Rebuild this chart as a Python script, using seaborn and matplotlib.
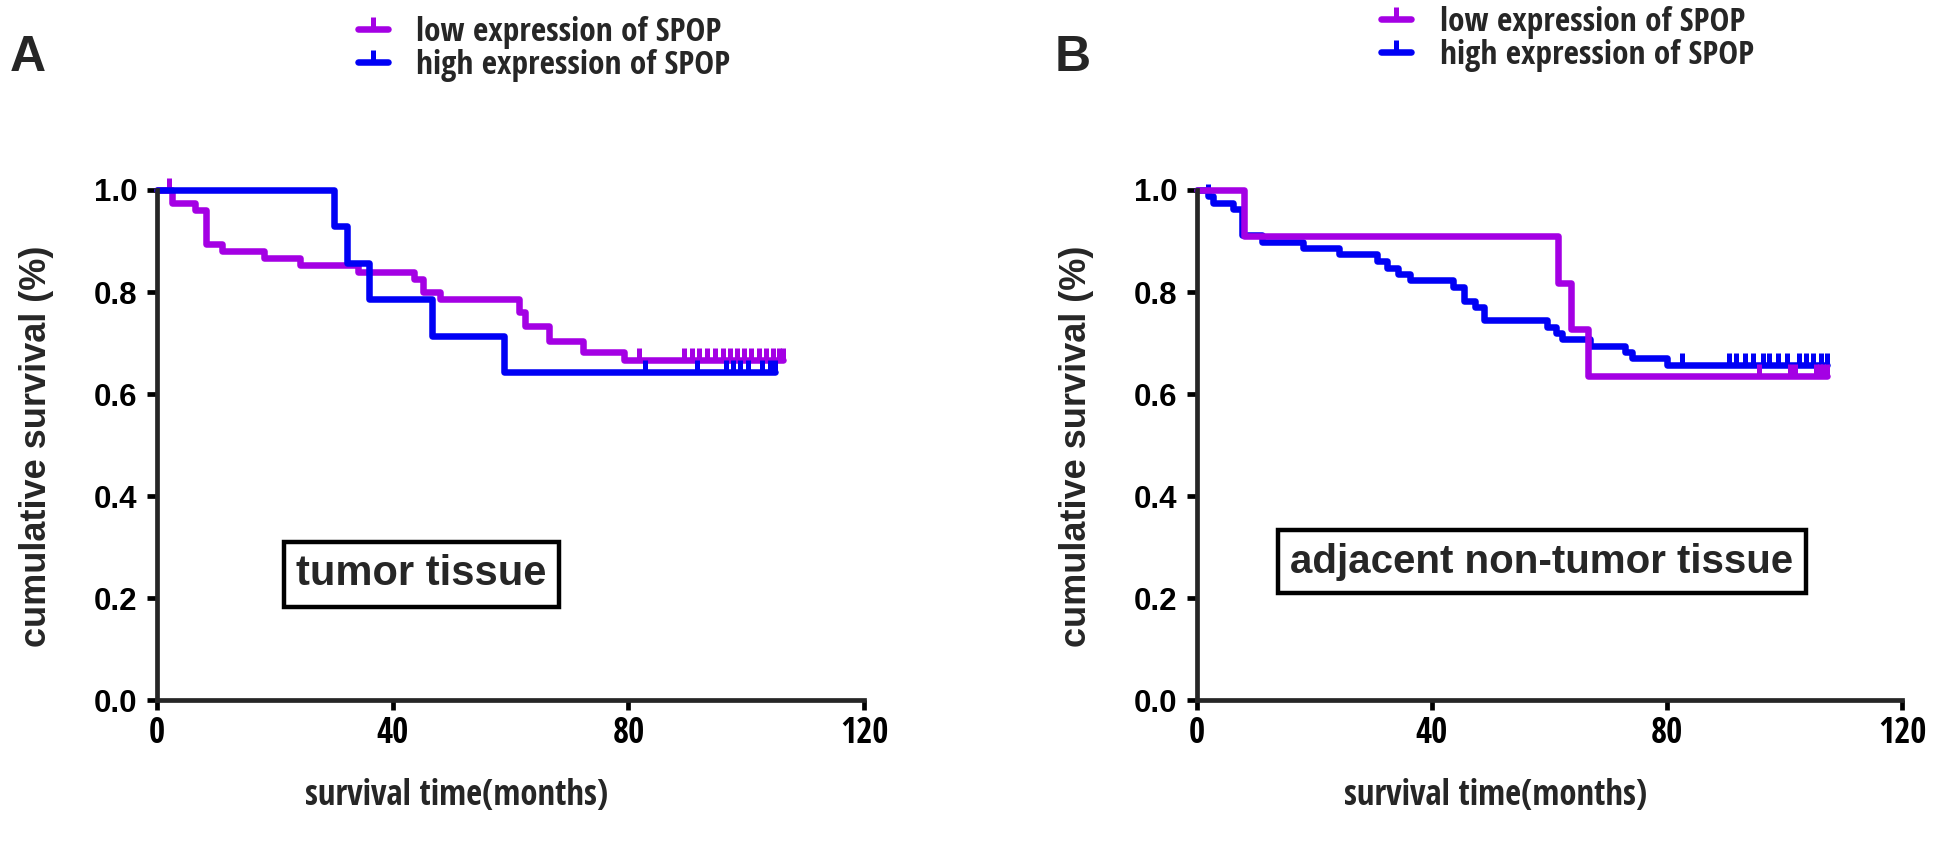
import numpy as np
import matplotlib
matplotlib.use("Agg")
import matplotlib.pyplot as plt
import seaborn as sns
from matplotlib import font_manager
from matplotlib.font_manager import FontProperties
from matplotlib.lines import Line2D

# --- data (Kaplan-Meier steps) ---
# panel A: tumor tissue
A_LOW_T = [0, 2.5, 6.4, 8.3, 11.1, 18.2, 24.2, 34.1, 43.6, 45.2, 48.1, 61.4, 62.5, 66.5, 72.3, 79.2]
A_LOW_S = [1.0, 0.975, 0.96, 0.894, 0.88, 0.866, 0.853, 0.84, 0.826, 0.80, 0.786, 0.761, 0.734, 0.705, 0.682, 0.667]
A_LOW_CENS = [2.0, 81.7, 89.5, 90.8, 92.0, 93.3, 94.6, 96.0, 97.2, 98.4, 99.6, 100.8, 102.2, 103.4, 104.6, 105.6, 106.2]

A_HIGH_T = [0, 30.0, 32.2, 36.0, 46.7, 58.9]
A_HIGH_S = [1.0, 0.929, 0.857, 0.786, 0.714, 0.643]
A_HIGH_CENS = [82.8, 91.7, 96.6, 97.8, 99.0, 100.2, 102.7, 104.0, 104.9]

# panel B: adjacent non-tumor tissue
B_LOW_T = [0, 8.1, 61.5, 63.6, 66.5]
B_LOW_S = [1.0, 0.909, 0.818, 0.727, 0.636]
B_LOW_CENS = [95.6, 100.9, 101.7, 105.4, 106.0, 106.6, 107.2]

B_HIGH_T = [0, 1.9, 2.7, 6.2, 7.7, 11.1, 18.0, 24.1, 30.6, 32.3, 34.2, 36.3, 43.6, 45.4, 47.3, 48.9,
            59.6, 61.1, 62.2, 66.9, 72.9, 74.1, 79.9]
B_HIGH_S = [1.0, 0.988, 0.975, 0.963, 0.912, 0.899, 0.886, 0.874, 0.861, 0.847, 0.835, 0.823, 0.81,
            0.783, 0.77, 0.745, 0.732, 0.719, 0.708, 0.695, 0.682, 0.67, 0.657]
B_HIGH_CENS = [1.9, 82.5, 90.6, 91.8, 93.2, 94.6, 96.3, 97.4, 98.8, 100.4, 102.4, 103.6, 104.9, 106.2, 107.2]

LABELS = ["low expression of SPOP", "high expression of SPOP"]
PANELS = ["A", "B"]
BOX_TEXT = ["tumor tissue", "adjacent non-tumor tissue"]
X_TICKS = [0, 40, 80, 120]
Y_TICKS = [0.0, 0.2, 0.4, 0.6, 0.8, 1.0]

PURPLE = "#a400e4"
BLUE = "#0000f5"


def pick_font(names):
    avail = {f.name for f in font_manager.fontManager.ttflist}
    for n in names:
        if n in avail:
            return n
    return "DejaVu Sans"


def find_condensed_bold():
    # look for any installed narrow / condensed bold face
    cands = []
    for f in font_manager.fontManager.ttflist:
        w = f.weight if isinstance(f.weight, int) else 400
        if f.stretch == "condensed" and w >= 600 and f.style == "normal":
            cands.append(f)
    order = ["Liberation Sans Narrow", "Arial Narrow", "Noto Sans", "Open Sans", "Roboto", "DejaVu Sans"]
    for pref in order:
        for f in cands:
            if f.name.startswith(pref):
                return f.fname
    return cands[0].fname if cands else None


sns.set_style("ticks")
REG = pick_font(["Liberation Sans", "Arial", "DejaVu Sans"])
plt.rcParams["font.family"] = [REG, "DejaVu Sans"]
COND = find_condensed_bold()


def narrow_fp(size):
    if COND:
        return FontProperties(fname=COND, size=size)
    return FontProperties(family=REG, weight="bold", size=size)


def surv_at(t_steps, s_steps, times):
    idx = np.searchsorted(np.array(t_steps), np.array(times), side="right") - 1
    return np.array(s_steps)[idx]


def draw_curve(ax, t, s, cens, color):
    end = max(cens[-1], t[-1])
    xs = list(t) + [end]
    ys = list(s) + [s[-1]]
    sns.lineplot(x=xs, y=ys, ax=ax, drawstyle="steps-post", color=color, lw=4.7,
                 estimator=None, errorbar=None, sort=False, clip_on=False)
    ax.plot(cens, surv_at(t, s, cens), ls="none", marker=2, ms=9, mew=3.6,
            color=color, clip_on=False)


fig = plt.figure(figsize=(19.43, 8.52), dpi=100)
axes = [fig.add_axes([0.0808, 0.178, 0.364, 0.599]),
        fig.add_axes([0.616, 0.178, 0.363, 0.599])]

curves = [
    [(A_LOW_T, A_LOW_S, A_LOW_CENS, PURPLE), (A_HIGH_T, A_HIGH_S, A_HIGH_CENS, BLUE)],
    [(B_HIGH_T, B_HIGH_S, B_HIGH_CENS, BLUE), (B_LOW_T, B_LOW_S, B_LOW_CENS, PURPLE)],
]
box_pos = [(44.9, 0.247), (58.7, 0.272)]
box_size = [30, 29]
letter_x = [0.0145, 0.552]
legend_x = [0.184, 0.711]
legend_y = [0.943, 0.9545]

for i, ax in enumerate(axes):
    for t, s, c, col in curves[i]:
        draw_curve(ax, t, s, c, col)

    ax.set_xlim(0, 120)
    ax.set_ylim(0, 1.0)
    ax.set_xticks(X_TICKS)
    ax.set_yticks(Y_TICKS)
    ax.set_yticklabels([f"{v:.1f}" for v in Y_TICKS], fontsize=22.5, fontweight="bold")
    ax.set_xticklabels([str(v) for v in X_TICKS])
    for lbl in ax.get_xticklabels():
        lbl.set_fontproperties(narrow_fp(25))
    sns.despine(ax=ax)
    for sp in ["left", "bottom"]:
        ax.spines[sp].set_linewidth(3.4)
    ax.tick_params(width=3.4, length=7, colors="black")
    ax.tick_params(axis="y", pad=7)
    ax.tick_params(axis="x", pad=4)

    ax.set_xlabel("survival time(months)", fontproperties=narrow_fp(25))
    ax.xaxis.set_label_coords(0.424, -0.152)
    ax.set_ylabel("cumulative survival (%)", fontsize=26, fontweight="bold")
    ax.yaxis.set_label_coords(-0.146, 0.498)

    ax.text(box_pos[i][0], box_pos[i][1], BOX_TEXT[i], ha="center", va="center",
            fontsize=box_size[i], fontweight="bold",
            bbox=dict(boxstyle="square,pad=0.3", fc="white", ec="black", lw=3.2))

    fig.text(letter_x[i], 0.932, PANELS[i], fontsize=36, fontweight="bold",
             ha="center", va="center")

    handles = [Line2D([], [], color=PURPLE, lw=4.7, marker=2, ms=9, mew=3.6),
               Line2D([], [], color=BLUE, lw=4.7, marker=2, ms=9, mew=3.6)]
    fig.legend(handles, LABELS, loc="center left", bbox_to_anchor=(legend_x[i], legend_y[i]),
               frameon=False, borderpad=0, borderaxespad=0, handlelength=0.9,
               handletextpad=0.85, labelspacing=0.0, numpoints=1,
               prop=narrow_fp(24))

fig.savefig("out.png", dpi=100, facecolor="white")
